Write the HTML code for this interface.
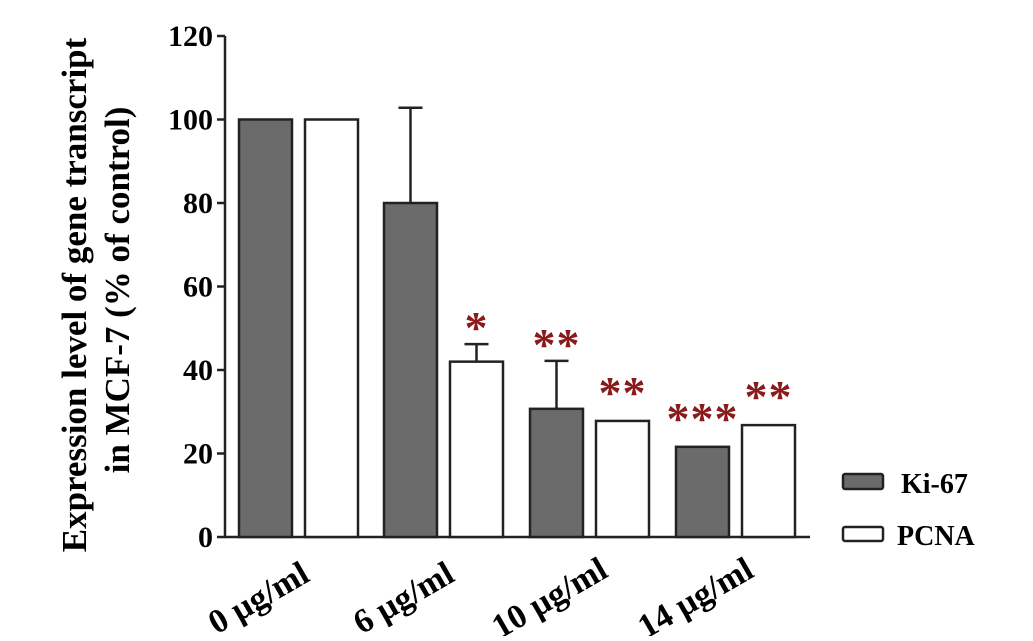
<!DOCTYPE html>
<html><head><meta charset="utf-8"><style>
body{margin:0;background:#fff}
svg text{font-family:"Liberation Serif",serif;font-weight:bold}
</style></head><body>
<svg id="c" width="1033" height="636" xmlns="http://www.w3.org/2000/svg"></svg>
<script>
const categories=["0 µg/ml","6 µg/ml","10 µg/ml","14 µg/ml"];
const ki67=[100,80,30.7,21.6];
const ki67Err=[0,102.8,42.2,0];
const pcna=[100,42,27.8,26.8];
const pcnaErr=[0,46.2,0,0];
const kiStars=["","","**","***"];
const pcnaStars=["","*","**","**"];
const yTicks=[0,20,40,60,80,100,120];
const NS="http://www.w3.org/2000/svg";
const svg=document.getElementById('c');
const y=v=>537-v*(501/120);
const groupX=[239,384,530,676];
const bw=53, gap=13;
function el(t,a,p){const e=document.createElementNS(NS,t);for(const k in a)e.setAttribute(k,a[k]);(p||svg).appendChild(e);return e;}
let ax=el('line',{x1:225,y1:36,x2:225,y2:538,stroke:'#222','stroke-width':2.5});


let xa=el('line',{x1:224,y1:537,x2:810,y2:537,stroke:'#222','stroke-width':2.5});


yTicks.forEach(t=>{
  let l=el('line',{x1:217,y1:y(t),x2:225,y2:y(t),stroke:'#222','stroke-width':2.5});
  
  
  let tx=el('text',{x:213,y:y(t)+10,'text-anchor':'end','font-size':30});
  tx.textContent=t;
  
  
});
function errBar(cx,v,e){
  if(!e)return;
  let g=el('g',{stroke:'#222','stroke-width':2.5});
  
  
  el('line',{x1:cx,y1:y(v),x2:cx,y2:y(e)},g);
  el('line',{x1:cx-12,y1:y(e),x2:cx+12,y2:y(e)},g);
}
function star(cx,v,e,s){
  if(!s)return;
  let top=Math.min(y(v),e?y(e):y(v));
  let center=top-(e?28:40);
  let t=el('text',{x:cx,y:center+27,'text-anchor':'middle','font-size':46,fill:'#8b1a1a','font-family':'Liberation Sans','letter-spacing':'1'});
  t.textContent=s;
  
  
}
categories.forEach((c,i)=>{
  const x0=groupX[i], x1=x0+bw+gap;
  errBar(x0+bw/2,ki67[i],ki67Err[i]);
  errBar(x1+bw/2,pcna[i],pcnaErr[i]);
  let b=el('rect',{x:x0,y:y(ki67[i]),width:bw,height:537-y(ki67[i]),fill:'#6b6b6b',stroke:'#222','stroke-width':2.5});
  
  
  let p=el('rect',{x:x1,y:y(pcna[i]),width:bw,height:537-y(pcna[i]),fill:'#fff',stroke:'#222','stroke-width':2.5});
  
  
  star(x0+bw/2,ki67[i],ki67Err[i],kiStars[i]);
  star(x1+bw/2,pcna[i],pcnaErr[i],pcnaStars[i]);
  let t=el('text',{x:0,y:12,'text-anchor':'middle','font-size':34,transform:`translate(${x0+19},${597}) rotate(-30)`});
  t.textContent=c;
  
  
});
</script>
<svg style="position:absolute;left:0;top:0" width="1033" height="636" xmlns="http://www.w3.org/2000/svg">
<g>
<text transform="translate(86,295) rotate(-90)" text-anchor="middle" font-size="35" font-family="Liberation Serif" font-weight="bold">Expression level of gene transcript</text>
<text transform="translate(129,290) rotate(-90)" text-anchor="middle" font-size="35" font-family="Liberation Serif" font-weight="bold">in MCF-7 (% of control)</text>
</g>
<g>
<rect x="843" y="474" width="40" height="15" rx="2" fill="#6b6b6b" stroke="#222" stroke-width="2.5"/>
<text x="901" y="493" font-size="28" font-family="Liberation Serif" font-weight="bold">Ki-67</text>
<rect x="843" y="527" width="40" height="14" rx="2" fill="#fff" stroke="#222" stroke-width="2.5"/>
<text x="897" y="545" font-size="28" font-family="Liberation Serif" font-weight="bold">PCNA</text>
</g>
</svg>
</body></html>
